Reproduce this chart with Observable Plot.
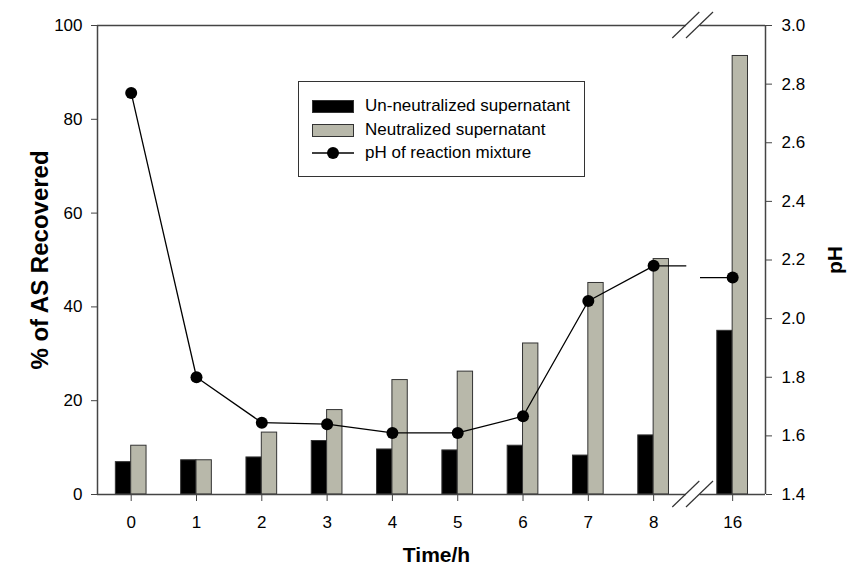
<!DOCTYPE html>
<html><head><meta charset="utf-8">
<script src="https://cdn.jsdelivr.net/npm/d3@7"></script>
<script src="https://cdn.jsdelivr.net/npm/@observablehq/plot@0.6"></script>
<style>
body{margin:0;background:#fff;font-family:"Liberation Sans",Arial,sans-serif;}
#wrap{position:relative;width:848px;height:569px;}
#legend{position:absolute;left:298px;top:81px;width:287px;height:96px;border:1px solid #333;box-sizing:border-box;font-size:17px;color:#000;background:#fff;}
.row{position:absolute;left:0;height:20px;}
.sw{position:absolute;left:13px;width:42px;height:13px;box-sizing:border-box;border:1px solid #333;}
.lbl{position:absolute;left:66px;white-space:nowrap;line-height:20px;top:0;}
</style></head>
<body><div id="wrap"></div>
<script>
// ---- data ----
const times = ["0","1","2","3","4","5","6","7","8","16"];
const xpos = [0,1,2,3,4,5,6,7,8,9.21];          // axis position (break between 8 and 16)
const unneutralized = [6.9, 7.3, 7.9, 11.4, 9.6, 9.4, 10.4, 8.3, 12.6, 34.9];
const neutralized  = [10.4, 7.3, 13.2, 18.0, 24.4, 26.2, 32.2, 45.1, 50.2, 93.5];
const pH = [2.77, 1.80, 1.645, 1.64, 1.61, 1.61, 1.667, 2.06, 2.18, 2.14];
const seriesNames = ["Un-neutralized supernatant","Neutralized supernatant","pH of reaction mixture"];
const yTicks = [0,20,40,60,80,100];
const pHTicks = [1.4,1.6,1.8,2.0,2.2,2.4,2.6,2.8,3.0];
const yDomain = [0,100];
const pHDomain = [1.4,3.0];
const xDomain = [-0.516, 9.713];
const breakX = [8.5, 8.71];

const toY = p => (p - pHDomain[0]) / (pHDomain[1] - pHDomain[0]) * (yDomain[1]-yDomain[0]) + yDomain[0];
const fromY = v => (v - yDomain[0]) / (yDomain[1]-yDomain[0]) * (pHDomain[1]-pHDomain[0]) + pHDomain[0];

const data = times.map((t,i)=>({t, pos:xpos[i], un:unneutralized[i], ne:neutralized[i], ph:pH[i], phY:toY(pH[i])}));
const bw = 0.235;
const lastBefore = data[8], after = data[9];
const stubs = [
  {x1:lastBefore.pos, x2:breakX[0], y1:lastBefore.phY, y2:lastBefore.phY},
  {x1:breakX[1], x2:after.pos, y1:after.phY, y2:after.phY}
];
const frameSegs = [];
for (const y of yDomain) {
  frameSegs.push({y, x1:xDomain[0], x2:breakX[0]});
  frameSegs.push({y, x1:breakX[1], x2:xDomain[1]});
}
const axisColor = "#444";

const plot = Plot.plot({
  width:848, height:569,
  marginLeft:97, marginRight:83, marginTop:25, marginBottom:75,
  style:{fontFamily:"'Liberation Sans', Arial, sans-serif", fontSize:"17px", background:"#fff", color:"#000"},
  x:{domain:xDomain, type:"linear"},
  y:{domain:yDomain},
  marks:[
    Plot.rect(data,{x1:d=>d.pos-bw, x2:d=>d.pos, y1:0, y2:"un", fill:"#000", stroke:"#333", strokeWidth:1}),
    Plot.rect(data,{x1:d=>d.pos, x2:d=>d.pos+bw, y1:0, y2:"ne", fill:"#b8b8aa", stroke:"#333", strokeWidth:1}),
    Plot.line(data.slice(0,9),{x:"pos", y:"phY", stroke:"#000", strokeWidth:1.3}),
    Plot.link(stubs,{x1:"x1",x2:"x2",y1:"y1",y2:"y2", stroke:"#000", strokeWidth:1.3}),
    Plot.dot(data,{x:"pos", y:"phY", r:6, fill:"#000", stroke:"none"}),
    Plot.ruleX(xDomain,{stroke:axisColor, strokeWidth:1.5}),
    Plot.ruleY(frameSegs,{y:"y", x1:"x1", x2:"x2", stroke:axisColor, strokeWidth:1.5}),
    Plot.axisY(yTicks,{anchor:"left", tickSize:6, tickPadding:9, stroke:axisColor, label:null}),
    Plot.axisY(pHTicks.map(toY),{anchor:"right", tickSize:6, tickPadding:10, stroke:axisColor, label:null, tickFormat:v=>fromY(v).toFixed(1)}),
    Plot.axisX(xpos,{anchor:"bottom", tickSize:7, tickPadding:14, stroke:axisColor, label:null, tickFormat:d=>times[xpos.indexOf(d)]}),
    Plot.text(["% of AS Recovered"],{text:d=>d, frameAnchor:"left", textAnchor:"middle", lineAnchor:"middle", dx:-57, rotate:-90, fontWeight:"bold", fontSize:24}),
    Plot.text(["pH"],{text:d=>d, frameAnchor:"right", textAnchor:"middle", lineAnchor:"middle", dx:70, rotate:-90, fontWeight:"bold", fontSize:21}),
    Plot.text(["Time/h"],{text:d=>d, frameAnchor:"bottom", textAnchor:"middle", lineAnchor:"middle", dx:5, dy:61, fontWeight:"bold", fontSize:21})
  ]
});
document.getElementById("wrap").appendChild(plot);

// axis break slashes
const sx = plot.scale("x"), sy = plot.scale("y");
const svg = d3.select(plot);
const g = svg.append("g").attr("stroke","#333").attr("stroke-width",1.2);
for (const yv of yDomain) {
  for (const bx of breakX) {
    const cx = sx.apply(bx), cy = sy.apply(yv);
    g.append("line").attr("x1",cx-13.5).attr("y1",cy+13).attr("x2",cx+13.5).attr("y2",cy-13);
  }
}

// legend
const leg = document.createElement("div");
leg.id = "legend";
const rowTops = [14, 38, 61];
seriesNames.forEach((name,i)=>{
  const row = document.createElement("div");
  row.className="row"; row.style.top = rowTops[i]+"px"; row.style.width="100%";
  if (i<2) {
    const sw = document.createElement("div");
    sw.className="sw"; sw.style.top="4px"; sw.style.background = i===0 ? "#000" : "#b8b8aa";
    row.appendChild(sw);
  } else {
    const s = d3.create("svg").attr("width",56).attr("height",20).style("position","absolute").style("left","0px").style("top","0px");
    s.append("line").attr("x1",13).attr("x2",55).attr("y1",10).attr("y2",10).attr("stroke","#000").attr("stroke-width",1.3);
    s.append("circle").attr("cx",34).attr("cy",10).attr("r",6).attr("fill","#000");
    row.appendChild(s.node());
  }
  const l = document.createElement("span");
  l.className="lbl"; l.textContent = name;
  row.appendChild(l);
  leg.appendChild(row);
});
document.getElementById("wrap").appendChild(leg);
</script>
</body></html>
